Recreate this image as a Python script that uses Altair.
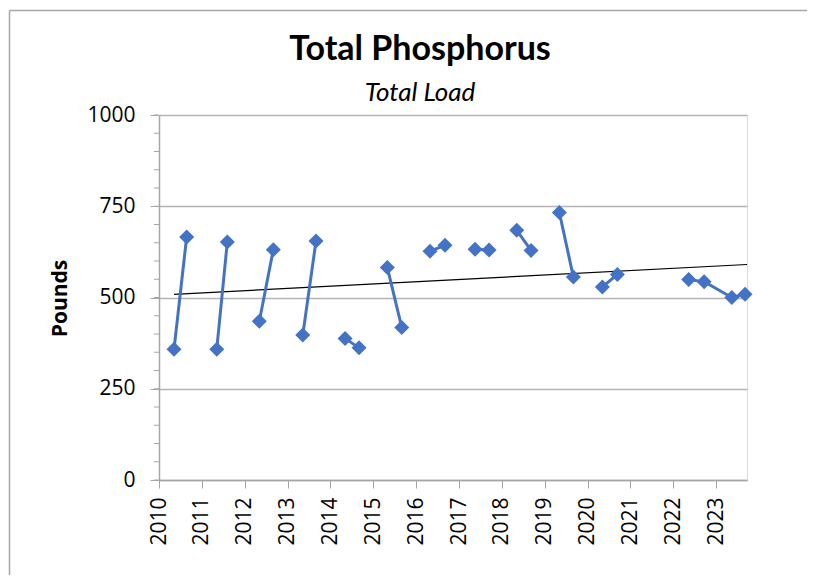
import altair as alt
import pandas as pd

# ---- data ----
sample_year = [2010.35, 2010.646, 2011.347, 2011.594, 2012.341, 2012.667,
               2013.354, 2013.664, 2014.341, 2014.668, 2015.328, 2015.664,
               2016.324, 2016.674, 2017.375, 2017.701, 2018.348, 2018.681,
               2019.342, 2019.669, 2020.345, 2020.695, 2022.36, 2022.72,
               2023.365, 2023.675]
load_lbs = [358, 666, 358, 652, 435, 631,
            397, 655, 388, 362, 582, 418,
            627, 643, 632, 630, 684, 629,
            733, 556, 529, 563, 549, 543,
            500, 509]
segment = ["2010", "2010", "2011", "2011", "2012", "2012",
           "2013", "2013", "2014", "2014", "2015", "2015",
           "2016", "2016", "2017", "2017", "2018", "2018",
           "2019", "2019", "2020", "2020", "2022-23", "2022-23",
           "2022-23", "2022-23"]
year_ticks = list(range(2010, 2024))
y_major = [0, 250, 500, 750, 1000]
y_minor = list(range(0, 1001, 50))
title_text = "Total Phosphorus"
subtitle_text = "Total Load"

df = pd.DataFrame({"year": sample_year, "load": load_lbs, "seg": segment})
minor_df = pd.DataFrame({"v": y_minor})
one = pd.DataFrame({"a": [0]})

BLUE = "#4472C4"
AXIS = "#A6A6A6"
GRID = "#B4B4B4"
FONT = "Open Sans"
TFONT = "Lato"

x_scale = alt.Scale(domain=[2010, 2023.72], nice=False, zero=False)
y_scale = alt.Scale(domain=[0, 1000], nice=False)

x_axis = alt.Axis(values=year_ticks, format="d", labelAngle=-90, labelAlign="right",
                  labelBaseline="middle", labelFontSize=21, labelColor="black",
                  labelFont=FONT, tickColor=AXIS, tickSize=8, domainColor=AXIS,
                  domainWidth=1.5, grid=False, title=None, labelPadding=9)
y_axis = alt.Axis(values=y_major, format="d", labelFontSize=21, labelColor="black",
                  labelFont=FONT, tickColor=AXIS, tickSize=9, domainColor=AXIS,
                  domainWidth=1.5, grid=True, gridColor=GRID, gridWidth=1.3,
                  labelPadding=15,
                  title="Pounds", titleFont=FONT, titleFontSize=21, titleFontWeight="bold",
                  titleColor="black", titleX=-99, titleY=183, titleAngle=-90,
                  titleBaseline="middle", titleAlign="center")

base = alt.Chart(df)
X = alt.X("year:Q", scale=x_scale, axis=x_axis)
Y = alt.Y("load:Q", scale=y_scale, axis=y_axis)

lines = base.mark_line(color=BLUE, strokeWidth=3).encode(
    x=X, y=Y, detail="seg:N", order="year:Q",
)

points = base.mark_point(shape="diamond", filled=True, size=225, color=BLUE, opacity=1).encode(
    x=X, y=Y,
)

trend = base.transform_regression("year", "load", extent=[2010.35, 2023.72]).mark_line(
    color="black", strokeWidth=1.2
).encode(x=X, y=Y)

minor = alt.Chart(minor_df).mark_rule(color=AXIS, strokeWidth=1).encode(
    y=alt.Y("v:Q", scale=y_scale, axis=y_axis),
    x=alt.value(-5),
    x2=alt.value(0),
)

border_left = alt.Chart(one).mark_rule(color="#A8A8A8", strokeWidth=1.5).encode(
    x=alt.value(-149.5), y=alt.value(-104.5), y2=alt.value(700)
)
border_top = alt.Chart(one).mark_rule(color="#A8A8A8", strokeWidth=1.5).encode(
    y=alt.value(-104.5), x=alt.value(-149.5), x2=alt.value(900)
)

title_mark = alt.Chart(one).mark_text(
    text=title_text, font=TFONT, fontSize=34, fontWeight="bold", color="black",
    align="center", baseline="alphabetic",
).encode(x=alt.value(261), y=alt.value(-55))

subtitle_mark = alt.Chart(one).mark_text(
    text=subtitle_text, font=TFONT, fontSize=26, fontStyle="italic", color="black",
    align="center", baseline="alphabetic",
).encode(x=alt.value(261), y=alt.value(-14))

chart = alt.layer(border_left, border_top, minor, trend, lines, points,
                  title_mark, subtitle_mark).properties(
    width=588,
    height=365,
    autosize=alt.AutoSizeParams(type="none"),
    padding={"left": 151, "top": 107, "right": 60, "bottom": 95},
).configure_view(stroke=None).configure(background="white")

chart.save("out.html", embed_options={"renderer": "svg", "actions": False})
